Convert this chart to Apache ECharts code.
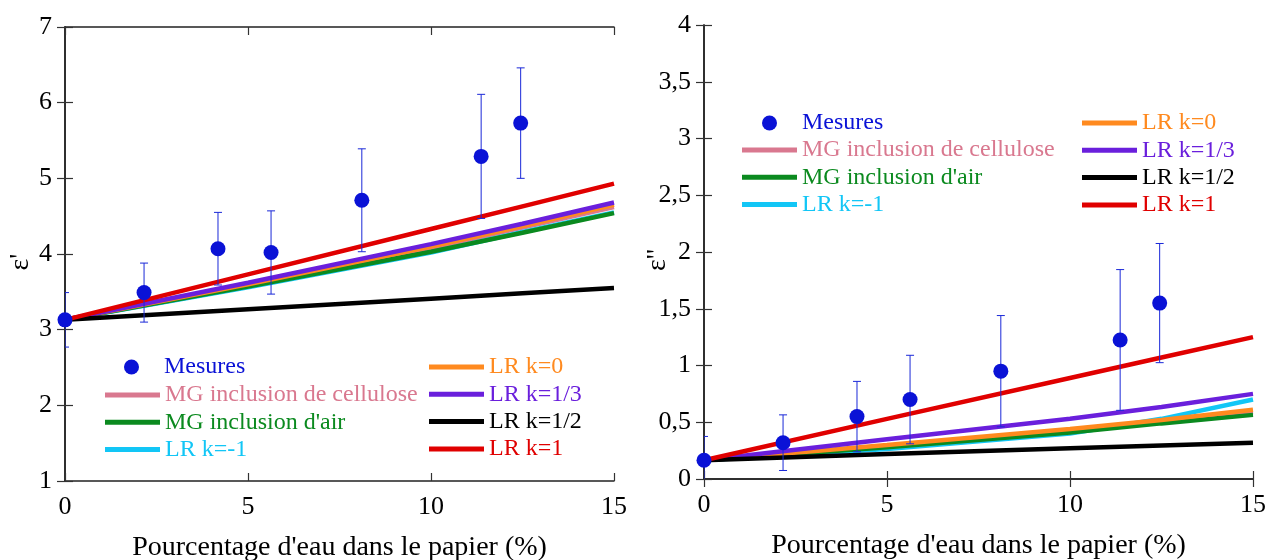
<!DOCTYPE html>
<html>
<head>
<meta charset="utf-8">
<script src="https://cdn.jsdelivr.net/npm/echarts@6/dist/echarts.min.js"></script>
<style>
html,body{margin:0;padding:0;background:#fff;}
#chart{width:1267px;height:560px;}
</style>
</head>
<body>
<div id="chart"></div>
<script>
// ---- data ----
const waterPct = [0, 2.16, 4.18, 5.63, 8.11, 11.37, 12.45];
const epsRealMeas = [3.13, 3.49, 4.07, 4.02, 4.71, 5.29, 5.73];
const epsRealErr = [0.36, 0.39, 0.48, 0.55, 0.68, 0.82, 0.73];
const epsImagMeas = [0.165, 0.32, 0.55, 0.70, 0.95, 1.225, 1.55];
const epsImagErr = [0.21, 0.245, 0.31, 0.39, 0.49, 0.62, 0.525];

const modelX = [0, 5, 10, 12.5, 15];
// epsilon' models
const realMGCell = [3.13, 3.59, 4.08, 4.35, 4.62];
const realMGAir  = [3.13, 3.57, 4.03, 4.28, 4.54];
const realLRm1   = [3.13, 3.56, 4.02, 4.29, 4.55];
const realLR0    = [3.13, 3.60, 4.10, 4.37, 4.65];
const realLR13   = [3.13, 3.62, 4.13, 4.40, 4.68];
const realLR12   = [3.13, 3.27, 3.41, 3.48, 3.55];
const realLR1    = [3.13, 3.73, 4.33, 4.63, 4.93];
// epsilon'' models
const imagMGCell = [0.165, 0.28, 0.42, 0.50, 0.59];
const imagMGAir  = [0.165, 0.28, 0.41, 0.49, 0.565];
const imagLRm1   = [0.165, 0.265, 0.40, 0.53, 0.70];
const imagLR0    = [0.165, 0.30, 0.44, 0.52, 0.61];
const imagLR13   = [0.165, 0.35, 0.53, 0.635, 0.75];
const imagLR12   = [0.165, 0.22, 0.27, 0.295, 0.32];
const imagLR1    = [0.165, 0.53, 0.89, 1.07, 1.25];

const xTitle = "Pourcentage d'eau dans le papier (%)";
const names = {
  mes: 'Mesures', cell: 'MG inclusion de cellulose', air: "MG inclusion d'air",
  m1: 'LR k=-1', k0: 'LR k=0', k13: 'LR k=1/3', k12: 'LR k=1/2', k1: 'LR k=1'
};
const colors = {
  mes: '#0a12d6', cell: '#d9788f', air: '#0b8a1f', m1: '#12c6f6',
  k0: '#ff8a1f', k13: '#6a1fdc', k12: '#000000', k1: '#e00000'
};

// ---- chart ----
const FONT = "'Liberation Serif', 'Times New Roman', serif";
const zip = (xs, ys) => xs.map((x, i) => [x, ys[i]]);
const zip3 = (xs, ys, es) => xs.map((x, i) => [x, ys[i], es[i]]);

function errRender(params, api) {
  const x = api.value(0), y = api.value(1), e = api.value(2);
  const t = api.coord([x, y + e]);
  const b = api.coord([x, y - e]);
  const h = 4;
  const st = { stroke: '#1a28d8', lineWidth: 1 };
  return {
    type: 'group',
    children: [
      { type: 'line', shape: { x1: t[0], y1: t[1], x2: b[0], y2: b[1] }, style: st },
      { type: 'line', shape: { x1: t[0] - h, y1: t[1], x2: t[0] + h, y2: t[1] }, style: st },
      { type: 'line', shape: { x1: b[0] - h, y1: b[1], x2: b[0] + h, y2: b[1] }, style: st }
    ]
  };
}

const axisLine = { show: true, lineStyle: { color: '#222', width: 1.5 } };
const axisTick = { show: true, inside: true, length: 8, lineStyle: { color: '#333', width: 1.2 } };
const labelStyle = { fontFamily: FONT, fontSize: 26, color: '#000' };

function xAxes(gridIndex) {
  return [
    { type: 'value', gridIndex, min: 0, max: 15, interval: 5, position: 'bottom',
      axisLine, axisTick, splitLine: { show: false },
      axisLabel: Object.assign({ margin: 13 }, labelStyle),
      name: xTitle, nameLocation: 'middle', nameGap: 53, nameMoveOverlap: false,
      nameTextStyle: { fontFamily: FONT, fontSize: 28, color: '#000' } },
    { type: 'value', gridIndex, min: 0, max: 15, interval: 5, position: 'top',
      axisLine, axisTick, splitLine: { show: false }, axisLabel: { show: false } }
  ];
}
function yAxes(gridIndex, min, max, interval, name, fmt, gap) {
  return [
    { type: 'value', gridIndex, min, max, interval, position: 'left',
      axisLine, axisTick, splitLine: { show: false },
      axisLabel: Object.assign({ margin: 13, formatter: fmt }, labelStyle),
      name, nameLocation: 'middle', nameRotate: 90, nameGap: gap, nameMoveOverlap: false,
      nameTextStyle: { fontFamily: FONT, fontSize: 28, color: '#000', padding: [0, 16, 0, 0] } },
    { type: 'value', gridIndex, min, max, interval, position: 'right',
      axisLine, axisTick, splitLine: { show: false }, axisLabel: { show: false } }
  ];
}

function lineSeries(key, xi, yi, ys, z) {
  return { name: names[key], type: 'line', xAxisIndex: xi, yAxisIndex: yi,
    data: zip(modelX, ys), showSymbol: false, symbol: 'none', smooth: false,
    lineStyle: { color: colors[key], width: 4.5 }, itemStyle: { color: colors[key] },
    z: z, silent: true, animation: false };
}

function plotSeries(xi, yi, meas, err, m) {
  return [
    lineSeries('cell', xi, yi, m.cell, 2),
    lineSeries('m1', xi, yi, m.m1, 3),
    lineSeries('air', xi, yi, m.air, 4),
    lineSeries('k0', xi, yi, m.k0, 5),
    lineSeries('k13', xi, yi, m.k13, 6),
    lineSeries('k12', xi, yi, m.k12, 7),
    lineSeries('k1', xi, yi, m.k1, 8),
    { type: 'custom', xAxisIndex: xi, yAxisIndex: yi, renderItem: errRender,
      data: zip3(waterPct, meas, err), clip: true, z: 9, silent: true, animation: false },
    { name: names.mes, type: 'scatter', xAxisIndex: xi, yAxisIndex: yi,
      data: zip(waterPct, meas), symbol: 'circle', symbolSize: 15,
      itemStyle: { color: colors.mes, opacity: 1 }, z: 10, animation: false }
  ];
}

function legends(mesLeft, mesTop, c1Left, c1Top, c2Left, c2Top) {
  const common = { orient: 'vertical', padding: 0, selectedMode: false,
    icon: 'rect', itemWidth: 55, itemHeight: 5, itemGap: 3.3,
    textStyle: { fontFamily: FONT, fontSize: 24, lineHeight: 24 } };
  const item = k => ({ name: names[k], icon: 'rect', itemStyle: { color: colors[k], opacity: 1 },
    textStyle: { color: colors[k] } });
  return [
    { orient: 'vertical', padding: 0, selectedMode: false, left: mesLeft, top: mesTop,
      itemWidth: 15, itemHeight: 15, icon: 'circle',
      textStyle: { fontFamily: FONT, fontSize: 24, lineHeight: 24, padding: [0, 0, 0, 20] },
      data: [{ name: names.mes, icon: 'circle', itemStyle: { color: colors.mes, opacity: 1 },
        textStyle: { color: colors.mes } }] },
    Object.assign({}, common, { left: c1Left, top: c1Top, data: [item('cell'), item('air'), item('m1')] }),
    Object.assign({}, common, { left: c2Left, top: c2Top, data: [item('k0'), item('k13'), item('k12'), item('k1')] })
  ];
}

const chart = echarts.init(document.getElementById('chart'), null, { renderer: 'canvas' });
chart.setOption({
  backgroundColor: '#fff',
  animation: false,
  grid: [
    { left: 65, top: 27, width: 549, height: 454, show: false, containLabel: false, outerBoundsMode: 'none' },
    { left: 704, top: 25, width: 549, height: 454, show: false, containLabel: false, outerBoundsMode: 'none' }
  ],
  xAxis: xAxes(0).concat(xAxes(1)),
  yAxis: yAxes(0, 1, 7, 1, "ε'", v => String(v), 30)
    .concat(yAxes(1, 0, 4, 0.5, "ε''", v => String(v).replace('.', ','), 32)),
  legend: legends(124, 355, 105, 383, 429, 355)
    .concat(legends(762, 111, 742, 138, 1082, 111)),
  series: plotSeries(0, 0, epsRealMeas, epsRealErr,
      { cell: realMGCell, air: realMGAir, m1: realLRm1, k0: realLR0, k13: realLR13, k12: realLR12, k1: realLR1 })
    .concat(plotSeries(2, 2, epsImagMeas, epsImagErr,
      { cell: imagMGCell, air: imagMGAir, m1: imagLRm1, k0: imagLR0, k13: imagLR13, k12: imagLR12, k1: imagLR1 }))
});
</script>
</body>
</html>
